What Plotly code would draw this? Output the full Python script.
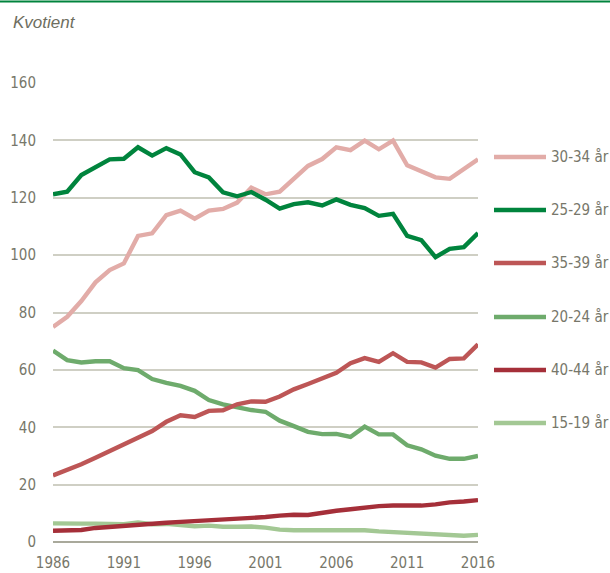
import plotly.graph_objects as go

years = list(range(1986, 2017))

v_30_34 = [75.0, 78.5, 84.0, 90.5, 94.8, 97.1, 106.7, 107.6, 113.9, 115.5, 112.7, 115.5, 116.1, 118.3, 123.5,
           121.2, 122.1, 126.5, 131.1, 133.5, 137.6, 136.6, 139.9, 136.9, 139.9, 131.3, 129.3, 127.1, 126.6, 130.1, 133.4]
v_25_29 = [121.2, 122.1, 127.9, 130.6, 133.4, 133.6, 137.6, 134.7, 137.3, 135.1, 128.9, 127.1, 121.9, 120.5, 122.0,
           119.3, 116.2, 117.8, 118.4, 117.3, 119.4, 117.5, 116.4, 113.7, 114.4, 106.7, 105.2, 99.3, 102.2, 102.8, 107.7]
v_35_39 = [23.2, 25.1, 27.1, 29.4, 31.7, 34.4, 36.7, 38.7, 41.9, 44.2, 43.6, 45.7, 45.9, 48.0, 49.0,
           48.9, 50.7, 53.2, 55.1, 57.1, 59.0, 62.3, 64.1, 62.8, 65.8, 62.8, 62.6, 60.8, 63.8, 64.0, 68.9]
v_20_24 = [66.7, 63.4, 62.6, 63.0, 63.0, 60.6, 59.9, 56.8, 55.5, 54.4, 52.7, 49.5, 48.0, 46.9, 46.0,
           45.4, 42.3, 40.4, 38.4, 37.6, 37.7, 36.6, 40.2, 37.5, 37.5, 33.7, 32.3, 30.1, 29.0, 29.0, 30.0]
v_40_44 = [3.9, 3.9, 4.2, 4.9, 5.3, 5.8, 6.0, 6.5, 6.7, 7.0, 7.3, 7.5, 7.7, 7.9, 8.5,
           8.7, 9.2, 9.5, 9.4, 10.2, 10.9, 11.4, 12.1, 12.5, 12.7, 12.7, 12.7, 13.1, 13.8, 14.1, 14.6]
v_15_19 = [6.5, 6.6, 6.4, 6.4, 6.3, 6.2, 6.8, 6.2, 6.3, 5.9, 5.5, 5.7, 5.3, 5.3, 5.4,
           5.0, 4.3, 4.1, 4.1, 4.1, 4.2, 4.1, 4.1, 3.7, 3.4, 3.1, 2.9, 2.8, 2.4, 2.2, 2.5]

# legend order (top to bottom)
legend_names = ["30-34 år", "25-29 år", "35-39 år", "20-24 år", "40-44 år", "15-19 år"]
legend_values = [v_30_34, v_25_29, v_35_39, v_20_24, v_40_44, v_15_19]
legend_colors = ["#e2aca8", "#00843d", "#bd5656", "#6eab6c", "#a52f39", "#a3c894"]

# draw order (bottom first)
draw_order = [5, 3, 0, 1, 4, 2]

y_ticks = [0, 20, 40, 60, 80, 100, 120, 140, 160]
x_ticks = [1986, 1991, 1996, 2001, 2006, 2011, 2016]

W, H = 610, 573
L, R, T, B = 53, 132, 83, 31
pw, ph = W - L - R, H - T - B

def px(x):
    return (x - L) / pw

def py(y):
    return (H - B - y) / ph

text_color = "#77776a"
font_narrow = "DejaVu Sans Condensed, Liberation Sans Narrow, sans-serif"

fig = go.Figure()
for i in draw_order:
    fig.add_trace(go.Scatter(
        x=years, y=legend_values[i], mode="lines", name=legend_names[i],
        line=dict(color=legend_colors[i], width=4.4), showlegend=False,
    ))

shapes = []
annotations = []
leg_y = [157, 210, 263, 317, 370, 423]
for i, name in enumerate(legend_names):
    shapes.append(dict(type="line", xref="paper", yref="paper",
                       x0=px(494), x1=px(546), y0=py(leg_y[i]), y1=py(leg_y[i]),
                       line=dict(color=legend_colors[i], width=4.4)))
    annotations.append(dict(xref="paper", yref="paper", x=px(549), y=py(leg_y[i]),
                            xanchor="left", yanchor="middle", text=name, showarrow=False,
                            font=dict(family=font_narrow, size=15, color=text_color)))

# top rule
shapes.append(dict(type="line", xref="paper", yref="paper", x0=px(0), x1=px(W),
                   y0=py(1.5), y1=py(1.5), line=dict(color="#00843d", width=2)))

annotations.append(dict(xref="paper", yref="paper", x=px(11), y=py(22),
                        xanchor="left", yanchor="middle", text="<i>Kvotient</i>", showarrow=False,
                        font=dict(family="Liberation Sans, Arial, sans-serif", size=17, color="#6e6e60")))

fig.update_layout(
    width=W, height=H,
    margin=dict(l=L, r=R, t=T, b=B, pad=0, autoexpand=False),
    paper_bgcolor="white", plot_bgcolor="white",
    showlegend=False,
    shapes=shapes, annotations=annotations,
    xaxis=dict(range=[1986, 2016], tickvals=x_ticks, showgrid=False, zeroline=False,
               showline=False, ticks="", ticklabelstandoff=10, automargin=False,
               tickfont=dict(family=font_narrow, size=15, color=text_color),
               fixedrange=True),
    yaxis=dict(range=[0, 160], tickvals=y_ticks, showgrid=True, gridcolor="#cfcfc4", gridwidth=1.5,
               zeroline=True, zerolinecolor="#a9a99b", zerolinewidth=1.5, showline=False, ticks="",
               ticklabelstandoff=16, automargin=False,
               tickfont=dict(family=font_narrow, size=15, color=text_color), fixedrange=True),
)

fig.write_html("out.html", config={"displayModeBar": False},
               post_script="document.body.style.margin='0';document.body.style.overflow='hidden';")
